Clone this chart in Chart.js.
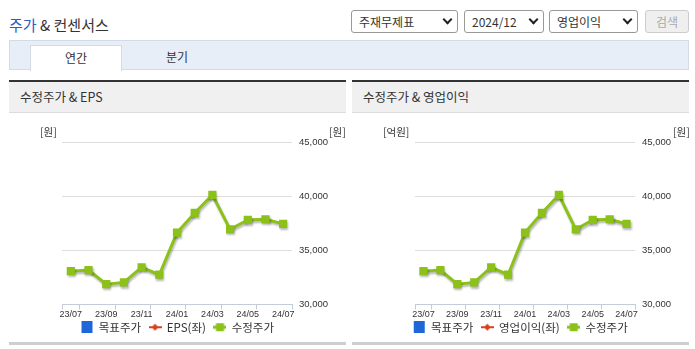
<!DOCTYPE html>
<html>
<head>
<meta charset="utf-8">
<script src="https://cdn.jsdelivr.net/npm/chart.js@4.4.1/dist/chart.umd.min.js"></script>
<style>
  body { margin: 0; background: #fff; font-family: "Noto Sans CJK KR", sans-serif; color: #333; }
  #page { position: relative; width: 695px; height: 349px; overflow: hidden; }
  .abs { position: absolute; white-space: nowrap; }
  .sel { position: absolute; top: 10px; height: 21px; border: 1px solid #999; border-radius: 3px; background: #fff; font-size: 12px; line-height: 21px; }
  .sel span { position: absolute; left: 7px; }
  .chev { position: absolute; top: 5px; width: 5px; height: 5px; border-right: 2px solid #222; border-bottom: 2px solid #222; transform: rotate(45deg); }
  .btn { position: absolute; left: 645px; top: 10px; width: 42px; height: 21px; border: 1px solid #ccc; border-radius: 3px; background: #efefef; color: #aaa; font-size: 12px; line-height: 21px; text-align: center; }
  .tabs { position: absolute; left: 9px; top: 40px; width: 678px; height: 28px; background: #e8eef8; border: 1px solid #d3dbe7; }
  .tab-on { position: absolute; left: 20px; top: 4px; width: 90px; height: 25px; background: #fff; border: 1px solid #d3dbe7; border-bottom: none; font-size: 12px; line-height: 24px; text-align: center; }
  .tab-off { position: absolute; left: 145px; top: 4px; width: 44px; font-size: 12px; line-height: 24px; text-align: center; }
  .panel { position: absolute; top: 80px; width: 337px; height: 265px; }
  .panel .top { position: absolute; left: 0; top: 0; width: 100%; height: 2px; background: #333; }
  .panel .head { position: absolute; left: 0; top: 2px; width: 100%; height: 30px; background: #f0f0f0; border-bottom: 1px solid #dcdcdc; }
  .panel .head span { position: absolute; left: 11px; top: 0; font-size: 12.5px; line-height: 30px; }
  .panel .bottom { position: absolute; left: 0; top: 262px; width: 100%; height: 3px; background: #cfcfcf; }
  .panel .wrap { position: absolute; left: 0; top: 33px; width: 337px; height: 230px; }
  .unit { position: absolute; top: 46px; font-size: 10.5px; line-height: 12px; color: #333; }
</style>
</head>
<body>
<div id="page">
  <div class="abs" style="left:9px;top:15px;font-size:15px;line-height:20px;"><span style="color:#2a5bc4">주가</span> &amp; 컨센서스</div>

  <div class="sel" style="left:351px;width:105px;"><span>주재무제표</span><div class="chev" style="left:92px"></div></div>
  <div class="sel" style="left:464px;width:78px;"><span>2024/12</span><div class="chev" style="left:65px"></div></div>
  <div class="sel" style="left:549px;width:87px;"><span>영업이익</span><div class="chev" style="left:74px"></div></div>
  <div class="btn">검색</div>

  <div class="tabs">
    <div class="tab-on">연간</div>
    <div class="tab-off">분기</div>
  </div>

  <div class="panel" style="left:9px;">
    <div class="top"></div>
    <div class="head"><span>수정주가 &amp; EPS</span></div>
    <div class="wrap"><canvas id="chartEps"></canvas></div>
    <div class="unit" style="left:31px;">[원]</div>
    <div class="unit" style="left:320px;">[원]</div>
    <div class="bottom"></div>
  </div>

  <div class="panel" style="left:352px;">
    <div class="top"></div>
    <div class="head"><span>수정주가 &amp; 영업이익</span></div>
    <div class="wrap"><canvas id="chartOp"></canvas></div>
    <div class="unit" style="left:31px;">[억원]</div>
    <div class="unit" style="left:321px;">[원]</div>
    <div class="bottom"></div>
  </div>
</div>

<script>
// 월 라벨 (23/07 ~ 24/07)
const months = ['23/07', '23/08', '23/09', '23/10', '23/11', '23/12', '24/01',
                '24/02', '24/03', '24/04', '24/05', '24/06', '24/07'];

// 수정주가 (원)
const adjPrice = [33080, 33180, 31880, 32040, 33430, 32750, 36640,
                  38450, 40120, 36940, 37810, 37870, 37440];

// 목표주가, EPS/영업이익 - 그림에 값이 없음
const targetPrice = [null, null, null, null, null, null, null, null, null, null, null, null, null];
const secondValues = [null, null, null, null, null, null, null, null, null, null, null, null, null];

// 오른쪽 축 눈금
const priceTicks = [30000, 35000, 40000, 45000];

const numFont = '"Liberation Sans", Arial, sans-serif';
const krFont = '"Noto Sans CJK KR", sans-serif';

const GREEN = '#8cc11a';
const RED = '#d9401e';
const BLUE = '#1f67d8';
const AXIS = '#c3cdd9';

// x축 라벨이 축 높이 밖으로 나가도 잘리지 않도록
Chart.registry.getScale('category').prototype._computeLabelArea = function() { return undefined; };

// 범례 아이콘
function makeIcon(kind) {
    const c = document.createElement('canvas');
    c.width = 13;
    c.height = 12;
    const g = c.getContext('2d');
    if (kind === 'box') {
        g.fillStyle = BLUE;
        g.fillRect(1, 0, 11, 12);
    } else if (kind === 'diamond') {
        g.fillStyle = RED;
        g.fillRect(0, 5, 13, 2);
        g.beginPath();
        g.moveTo(6.5, 2.5); g.lineTo(10, 6); g.lineTo(6.5, 9.5); g.lineTo(3, 6);
        g.closePath();
        g.fill();
    } else {
        g.fillStyle = GREEN;
        g.fillRect(0, 4.5, 13, 3);
        g.fillRect(2.5, 2, 8, 8);
    }
    return c;
}
const icons = [makeIcon('box'), makeIcon('diamond'), makeIcon('square')];

// 선 그림자
const shadowPlugin = {
    id: 'lineShadow',
    beforeDatasetDraw(chart) {
        const ctx = chart.ctx;
        ctx.save();
        ctx.shadowColor = 'rgba(0,0,0,0.28)';
        ctx.shadowBlur = 2;
        ctx.shadowOffsetX = 1;
        ctx.shadowOffsetY = 2;
    },
    afterDatasetDraw(chart) {
        chart.ctx.restore();
    }
};

function tickMarkColor(ctx) {
    // 0번, 홀수번 경계, 마지막 경계에만 눈금
    if (ctx.index === undefined || ctx.index === 0 || ctx.index % 2 === 1) return AXIS;
    return 'rgba(0,0,0,0)';
}

function makeChart(canvasId, secondLabel, leftWidth, rightWidth) {
    const ctx = document.getElementById(canvasId).getContext('2d');
    return new Chart(ctx, {
        type: 'line',
        data: {
            labels: months,
            datasets: [
                {
                    type: 'bar',
                    label: '목표주가',
                    data: targetPrice,
                    backgroundColor: BLUE,
                    yAxisID: 'y'
                },
                {
                    label: secondLabel,
                    data: secondValues,
                    borderColor: RED,
                    backgroundColor: RED,
                    pointStyle: 'rectRot',
                    yAxisID: 'y2'
                },
                {
                    label: '수정주가',
                    data: adjPrice,
                    borderColor: GREEN,
                    backgroundColor: GREEN,
                    borderWidth: 3,
                    pointStyle: 'rect',
                    pointRadius: 5.8,
                    pointHoverRadius: 5.8,
                    pointBorderWidth: 0,
                    tension: 0,
                    yAxisID: 'y'
                }
            ]
        },
        plugins: [shadowPlugin],
        options: {
            responsive: true,
            maintainAspectRatio: false,
            animation: false,
            layout: { padding: { top: 29, left: 0, right: 0, bottom: 0 } },
            plugins: {
                tooltip: { enabled: false },
                legend: {
                    position: 'bottom',
                    labels: {
                        usePointStyle: true,
                        pointStyleWidth: 12,
                        boxHeight: 12,
                        padding: 8,
                        color: '#333',
                        font: { family: krFont, size: 11.5 },
                        generateLabels: chart => chart.data.datasets.map((ds, i) => ({
                            text: ds.label,
                            pointStyle: icons[i],
                            fillStyle: 'rgba(0,0,0,0)',
                            strokeStyle: 'rgba(0,0,0,0)',
                            lineWidth: 0,
                            hidden: false,
                            datasetIndex: i,
                            fontColor: '#333'
                        }))
                    }
                }
            },
            scales: {
                x: {
                    offset: true,
                    afterFit: scale => { scale.height = 9; },
                    grid: {
                        offset: true,
                        drawOnChartArea: false,
                        drawTicks: true,
                        tickLength: 5,
                        color: tickMarkColor,
                        tickColor: tickMarkColor
                    },
                    border: { display: true, color: AXIS },
                    ticks: {
                        autoSkip: false,
                        maxRotation: 0,
                        padding: 0,
                        color: '#333',
                        font: { family: numFont, size: 9 },
                        callback: function(value, index) {
                            return index % 2 === 0 ? months[index] : '';
                        }
                    }
                },
                y: {
                    position: 'right',
                    min: priceTicks[0],
                    max: priceTicks[priceTicks.length - 1],
                    afterFit: scale => { scale.width = rightWidth; },
                    afterBuildTicks: scale => { scale.ticks = priceTicks.map(v => ({ value: v })); },
                    grid: { color: '#dddddd', drawTicks: false },
                    border: { display: false },
                    ticks: {
                        padding: 7,
                        color: '#333',
                        font: { family: numFont, size: 9.5 },
                        callback: value => value.toLocaleString('en-US')
                    }
                },
                y2: {
                    position: 'left',
                    afterFit: scale => { scale.width = leftWidth; },
                    grid: { display: false },
                    border: { display: false },
                    ticks: { display: false }
                }
            }
        }
    });
}

makeChart('chartEps', 'EPS(좌)', 53, 54);
makeChart('chartOp', '영업이익(좌)', 63, 54);
</script>
</body>
</html>
